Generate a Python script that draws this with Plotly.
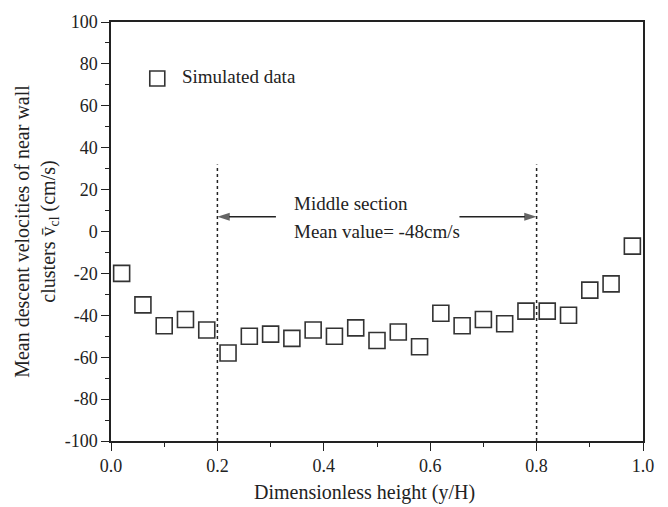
import plotly.graph_objects as go

x_vals = [0.02, 0.06, 0.10, 0.14, 0.18, 0.22, 0.26, 0.30, 0.34, 0.38, 0.42, 0.46, 0.50,
          0.54, 0.58, 0.62, 0.66, 0.70, 0.74, 0.78, 0.82, 0.86, 0.90, 0.94, 0.98]
y_vals = [-20, -35, -45, -42, -47, -58, -50, -49, -51, -47, -50, -46, -52,
          -48, -55, -39, -45, -42, -44, -38, -38, -40, -28, -25, -7]
x_ticks = [0, 0.2, 0.4, 0.6, 0.8, 1.0]
x_ticklabels = ["0.0", "0.2", "0.4", "0.6", "0.8", "1.0"]
y_ticks = [-100, -80, -60, -40, -20, 0, 20, 40, 60, 80, 100]
y_ticklabels = ["-100", "-80", "-60", "-40", "-20", "0", "20", "40", "60", "80", "100"]
section_bounds = [0.2, 0.8]
section_top = 32
arrow_y = 7
arrow_tails = [0.31, 0.655]
legend_label = "Simulated data"

FONT = "Liberation Serif, Times New Roman, serif"
INK = "#222222"

fig = go.Figure()
fig.add_trace(go.Scatter(
    x=x_vals, y=y_vals, mode="markers",
    marker=dict(symbol="square-open", size=16, color="#333333", line=dict(width=1.6, color="#333333")),
    showlegend=False,
))
# legend marker
fig.add_trace(go.Scatter(
    x=[0.087], y=[73], mode="markers+text",
    marker=dict(symbol="square-open", size=15, color="#333333", line=dict(width=1.6, color="#333333")),
    text=["   " + legend_label], textposition="middle right",
    textfont=dict(family=FONT, size=19, color=INK), showlegend=False,
))

for b in section_bounds:
    fig.add_shape(type="line", x0=b, x1=b, y0=-100, y1=section_top, xref="x", yref="y",
                  line=dict(color=INK, width=1.5, dash="dot"))

# arrows: line with arrow marker at the head
for tail, head in zip(arrow_tails, section_bounds):
    fig.add_trace(go.Scatter(
        x=[tail, head], y=[arrow_y, arrow_y], mode="lines+markers",
        line=dict(color=INK, width=1.5),
        marker=dict(symbol="arrow", size=[0, 13], angleref="previous", color=INK,
                    line=dict(width=0)),
        showlegend=False, hoverinfo="skip",
    ))

fig.add_annotation(x=0.34, y=13.5, xref="x", yref="y", text="Middle section", showarrow=False,
                   xanchor="left", font=dict(family=FONT, size=19, color=INK))
fig.add_annotation(x=0.34, y=0, xref="x", yref="y", text="Mean value= -48cm/s", showarrow=False,
                   xanchor="left", font=dict(family=FONT, size=19, color=INK))
# x-axis title (slightly left of centre, as in the reference)
fig.add_annotation(x=0.4756, y=-0.123, xref="paper", yref="paper", text="Dimensionless height (y/H)",
                   showarrow=False, xanchor="center", yanchor="middle",
                   font=dict(family=FONT, size=20, color=INK))

fig.update_layout(
    width=668, height=507,
    margin=dict(l=111, r=25, t=18, b=66),
    paper_bgcolor="white", plot_bgcolor="white",
    font=dict(family=FONT, size=18, color=INK),
)
fig.update_xaxes(
    range=[0, 1], tickvals=x_ticks, ticktext=x_ticklabels,
    ticks="outside", ticklen=8, tickwidth=1.3, tickcolor=INK,
    minor=dict(dtick=0.1, tick0=0, ticks="outside", ticklen=4, tickwidth=1.3, tickcolor=INK),
    showline=True, linecolor=INK, linewidth=1.5, mirror=True, showgrid=False, zeroline=False,
    tickfont=dict(family=FONT, size=18, color=INK),
)
fig.update_yaxes(
    range=[-100, 100], tickvals=y_ticks, ticktext=y_ticklabels,
    ticks="outside", ticklen=8, tickwidth=1.3, tickcolor=INK,
    minor=dict(dtick=10, tick0=0, ticks="outside", ticklen=4, tickwidth=1.3, tickcolor=INK),
    showline=True, linecolor=INK, linewidth=1.5, mirror=True, showgrid=False, zeroline=False,
    tickfont=dict(family=FONT, size=18, color=INK),
    title=dict(text="Mean descent velocities of near wall<br>clusters v\u0304<sub>cl</sub> (cm/s)",
               font=dict(family=FONT, size=20, color=INK), standoff=4),
)

fig.write_html("out.html")
